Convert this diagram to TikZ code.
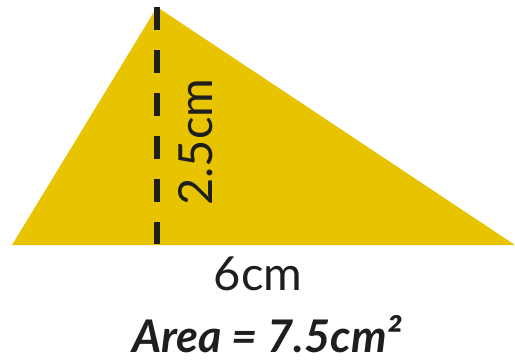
\documentclass[tikz,border=0pt]{standalone}
\usepackage{fontspec}
\setmainfont{Lato}
\definecolor{tri}{RGB}{232,196,0}
\definecolor{ink}{RGB}{30,30,30}
\begin{document}
\begin{tikzpicture}[x=1pt,y=-1pt,
  lbl/.style={text=ink,inner sep=0pt,font=\fontsize{47}{52}\selectfont},
  arealbl/.style={text=ink,inner sep=0pt,font=\fontsize{45}{50}\selectfont\bfseries\itshape},
  height/.style={draw=ink,line width=6pt,dash pattern=on 23pt off 20pt}]
\useasboundingbox (0,0) rectangle (515,360);
\coordinate (L) at (12,245);
\coordinate (T) at (157,7);
\coordinate (R) at (515,245);
\coordinate (F) at (157,244);
\fill[tri] (L) -- (T) -- (R) -- cycle;
\draw[height] (T) -- (F);
\node[lbl,rotate=90] (h) at (196,142) {2.5cm};
\node[lbl] (b) at (258,274) {6cm};
\node[arealbl] (a) at (267,334) {Area = 7.5cm²};
\end{tikzpicture}
\end{document}
